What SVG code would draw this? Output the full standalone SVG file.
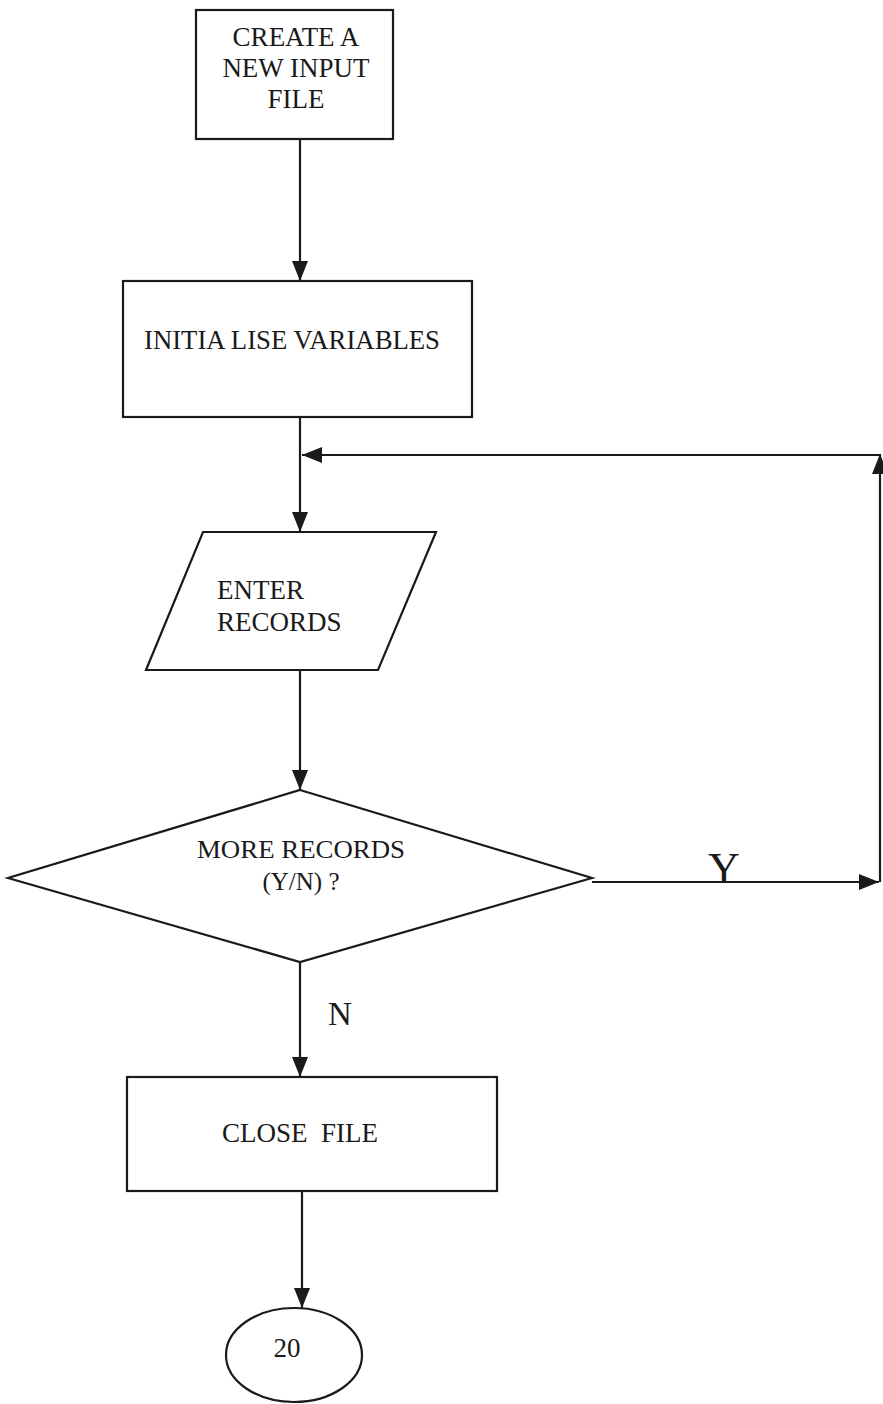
<svg xmlns="http://www.w3.org/2000/svg" width="883" height="1404" viewBox="0 0 883 1404">
<style>
.n{fill:#fff;stroke:#1a1a1a;stroke-width:2.2}
.c{fill:none;stroke:#1a1a1a;stroke-width:2.2}
text{font-family:"Liberation Serif","Times New Roman",serif;fill:#1a1a1a}
.t{font-size:27px}
.d{font-size:25px}
.y{font-size:44px}
.no{font-size:33px}
</style>
<defs>
<marker id="ah" viewBox="0 0 20 16" refX="20" refY="8" markerWidth="20" markerHeight="16" markerUnits="userSpaceOnUse" orient="auto">
<path d="M0,0 L20,8 L0,16 Z" fill="#1a1a1a"/>
</marker>
</defs>
<g id="connectors">
<line class="c" x1="300" y1="140" x2="300" y2="281" marker-end="url(#ah)"/>
<line class="c" x1="300" y1="417" x2="300" y2="532" marker-end="url(#ah)"/>
<line class="c" x1="880" y1="455" x2="302" y2="455" marker-end="url(#ah)"/>
<line class="c" x1="300" y1="670" x2="300" y2="790" marker-end="url(#ah)"/>
<line class="c" x1="592" y1="882" x2="879" y2="882" marker-end="url(#ah)"/>
<line class="c" x1="880" y1="882" x2="880" y2="454" marker-end="url(#ah)"/>
<line class="c" x1="300" y1="962" x2="300" y2="1077" marker-end="url(#ah)"/>
<line class="c" x1="302" y1="1191" x2="302" y2="1308" marker-end="url(#ah)"/>
<text class="y" x="724" y="883" text-anchor="middle">Y</text>
<text class="no" x="340" y="1025" text-anchor="middle">N</text>
</g>
<g id="create">
<rect class="n" x="196" y="10" width="197" height="129"/>
<text class="t" x="296" y="46" text-anchor="middle">CREATE A</text>
<text class="t" x="296" y="77" text-anchor="middle">NEW INPUT</text>
<text class="t" x="296" y="108" text-anchor="middle">FILE</text>
</g>
<g id="init">
<rect class="n" x="123" y="281" width="349" height="136"/>
<text class="t" x="144" y="349" textLength="296" lengthAdjust="spacingAndGlyphs">INITIA LISE VARIABLES</text>
</g>
<g id="enter">
<polygon class="n" points="203,532 436,532 378,670 146,670"/>
<text class="t" x="217" y="599">ENTER</text>
<text class="t" x="217" y="631">RECORDS</text>
</g>
<g id="decision">
<polygon class="n" points="300,790 592,878 300,962 8,878"/>
<text class="d" x="197" y="858" textLength="208" lengthAdjust="spacingAndGlyphs">MORE RECORDS</text>
<text class="d" x="301" y="890" text-anchor="middle">(Y/N) ?</text>
</g>
<g id="close">
<rect class="n" x="127" y="1077" width="370" height="114"/>
<text class="t" x="300" y="1142" text-anchor="middle" xml:space="preserve">CLOSE  FILE</text>
</g>
<g id="end">
<ellipse class="n" cx="294" cy="1355" rx="68" ry="47"/>
<text class="t" x="287" y="1357" text-anchor="middle">20</text>
</g>
</svg>
